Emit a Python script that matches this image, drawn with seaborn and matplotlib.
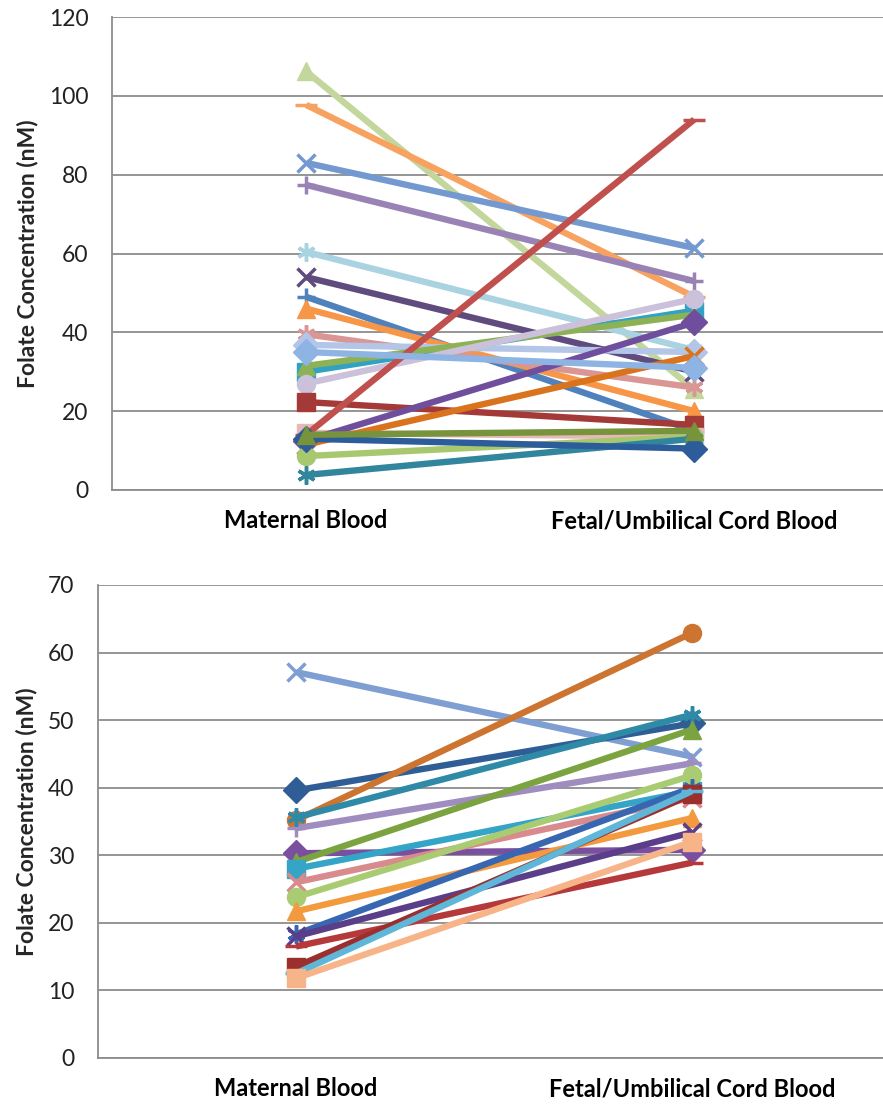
import matplotlib
matplotlib.use("Agg")
import matplotlib.pyplot as plt
import numpy as np
import pandas as pd
import seaborn as sns

# Categories on the x axis
sites = ["Maternal Blood", "Fetal/Umbilical Cord Blood"]

# Top panel: one pair of values per sample
top_maternal = [106.2, 97.7, 83.0, 77.4, 60.4, 54.0, 49.0, 46.0, 39.5, 36.8, 30.0, 31.5,
                27.0, 22.3, 14.5, 14.0, 12.5, 11.5, 8.6, 3.8, 13.0, 14.0, 35.0]
top_fetal = [25.5, 49.0, 61.4, 53.0, 35.5, 30.0, 15.0, 20.0, 26.0, 35.0, 45.5, 44.5,
             48.5, 16.5, 13.5, 94.0, 42.5, 34.0, 13.5, 13.0, 10.5, 15.0, 31.0]
top_colors = ["#C3D69B", "#F8A262", "#7399D0", "#9983B5", "#A9D3E0", "#5F4B7E", "#4F81BD",
              "#F79646", "#D99694", "#B3C6E7", "#31A2C3", "#8DB255", "#CCC1DA", "#A33A37",
              "#E6B9B8", "#C0504D", "#6F4E9E", "#D9731E", "#A8C870", "#31859C", "#2C5D9A",
              "#77933C", "#8EB4E3"]
top_markers = ["^", "_", "x", "+", "*", "x", "+", "^", "*", "D", "s", "^", "o", "s", "s",
               "_", "D", "x", "o", "*", "D", "^", "D"]

# Bottom panel
bot_maternal = [57.1, 39.6, 35.2, 34.0, 35.6, 30.3, 29.0, 28.0, 26.0, 23.8, 21.7, 18.3,
                18.0, 16.5, 13.5, 12.5, 11.8]
bot_fetal = [44.6, 49.5, 62.9, 43.6, 50.8, 30.8, 48.6, 39.5, 38.5, 41.8, 35.5, 40.0,
             33.4, 28.9, 39.0, 39.5, 32.0]
bot_colors = ["#7F9ED2", "#2F5D96", "#CC7430", "#A08DC0", "#2E8AA6", "#7A4FA0", "#7BA33F",
              "#34A5C6", "#D98A8C", "#A9CC73", "#F39A3E", "#3767B0", "#5B3E8A", "#B5393A",
              "#9B2F2E", "#5EB7D8", "#F7B488"]
bot_markers = ["x", "D", "o", "+", "*", "D", "^", "s", "x", "o", "^", "*", "x", "_", "s",
               "_", "s"]

sns.set_style("white")
plt.rcParams["font.family"] = ["Lato", "DejaVu Sans"]

GRID = "#8C8C8C"


def draw_panel(ax, maternal, fetal, colors, markers, ymax, step):
    for i, (m, f) in enumerate(zip(maternal, fetal)):
        df = pd.DataFrame({"x": [0, 1], "value": [m, f]})
        mk = markers[i]
        if mk == "*":
            mk = (6, 2, 0)  # excel-style asterisk
        unfilled = mk in ("x", "+", "_") or isinstance(mk, tuple)
        sns.lineplot(data=df, x="x", y="value", ax=ax, color=colors[i], linewidth=4.6,
                     estimator=None, errorbar=None, marker=mk,
                     markersize=16 if mk == "_" else 13,
                     markeredgecolor=colors[i], markerfacecolor=colors[i],
                     markeredgewidth=2.5 if unfilled else 1, solid_capstyle="butt")

    ax.set_xlim(-0.5, 1.5)
    ax.set_ylim(0, ymax)
    ax.set_yticks(np.arange(0, ymax + 1, step))
    ax.yaxis.grid(True, color=GRID, linewidth=1.3)
    ax.set_axisbelow(True)
    ax.set_xticks([0, 1], sites, fontweight="bold", fontsize=17)
    ax.set_xticks([-0.5, 0.5, 1.5], minor=True)
    ax.tick_params(axis="x", which="major", length=0, pad=14, colors="black")
    ax.tick_params(axis="x", which="minor", length=6, width=1.3, color=GRID, direction="out")
    ax.tick_params(axis="y", length=7, width=1.3, color=GRID, direction="out",
                   labelsize=16.5, pad=10, labelcolor="#222222")
    for s in ["top", "right"]:
        ax.spines[s].set_visible(False)
    for s in ["left", "bottom"]:
        ax.spines[s].set_color(GRID)
        ax.spines[s].set_linewidth(1.3)
    ax.set_xlabel("")
    ax.set_ylabel("Folate Concentration (nM)", fontweight="bold", fontsize=16.5)
    if ax.get_legend():
        ax.get_legend().remove()


fig = plt.figure(figsize=(8.83, 11.07), dpi=100)
ax1 = fig.add_axes([0.127, 0.5574, 0.879, 0.4272])
ax2 = fig.add_axes([0.111, 0.0443, 0.897, 0.4273])

draw_panel(ax1, top_maternal, top_fetal, top_colors, top_markers, 120, 20)
draw_panel(ax2, bot_maternal, bot_fetal, bot_colors, bot_markers, 70, 10)

ax1.yaxis.set_label_coords(-0.095, 0.5)
ax2.yaxis.set_label_coords(-0.076, 0.5)

fig.savefig("out.png", dpi=100)
